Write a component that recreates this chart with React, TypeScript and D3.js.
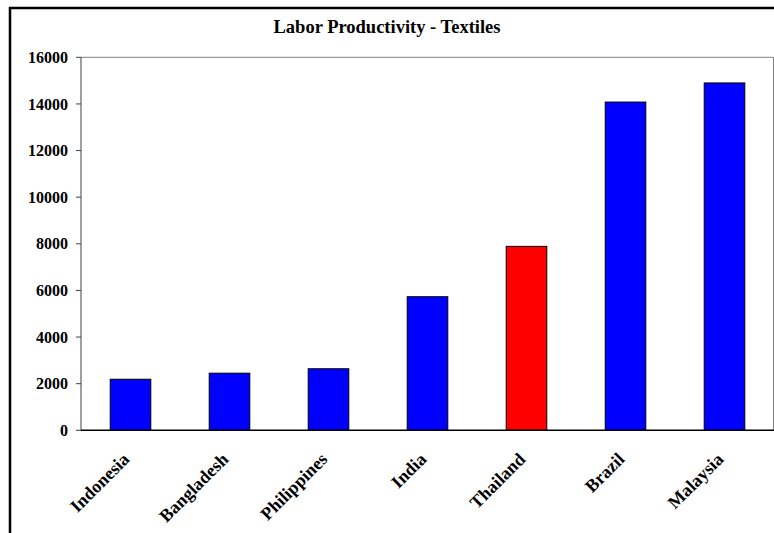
import React from "react";
import * as d3 from "d3";

const countries: string[] = ["Indonesia", "Bangladesh", "Philippines", "India", "Thailand", "Brazil", "Malaysia"];
const productivity: number[] = [2190, 2450, 2640, 5730, 7890, 14080, 14900];
const yTicks: number[] = [0, 2000, 4000, 6000, 8000, 10000, 12000, 14000, 16000];
const highlighted = "Thailand";
const chartTitle = "Labor Productivity - Textiles";

const W = 774;
const H = 533;
const plot = { left: 81, right: 774, top: 57.3, bottom: 430.3 };
const serif = "'Liberation Serif', 'Times New Roman', Times, serif";

export default function App() {
  const x = d3
    .scaleBand<string>()
    .domain(countries)
    .range([plot.left, plot.right])
    .paddingInner(0.59)
    .paddingOuter(0.295);
  const y = d3.scaleLinear().domain([0, 16000]).range([plot.bottom, plot.top]);

  return (
    <svg
      width={W}
      height={H}
      style={{ position: "absolute", left: 0, top: 0, background: "#fff" }}
      fontFamily={serif}
    >
      {/* chart frame */}
      <rect x={10} y={8} width={800} height={560} fill="#fff" stroke="#000" strokeWidth={2.5} />

      <text x={387} y={33} textAnchor="middle" fontSize={18.5} fontWeight="bold" fill="#000">
        {chartTitle}
      </text>

      {/* plot area border */}
      <line x1={plot.left} x2={plot.right - 0.5} y1={plot.top} y2={plot.top} stroke="#808080" strokeWidth={1} />
      <line x1={plot.right - 0.5} x2={plot.right - 0.5} y1={plot.top} y2={plot.bottom} stroke="#808080" strokeWidth={1} />

      {/* bars */}
      {countries.map((c, i) => (
        <rect
          key={c}
          x={x(c)}
          y={y(productivity[i])}
          width={x.bandwidth()}
          height={y(0) - y(productivity[i])}
          fill={c === highlighted ? "#FF0000" : "#0000FF"}
          stroke="#000"
          strokeWidth={1}
        />
      ))}

      {/* y axis */}
      <line x1={plot.left} x2={plot.left} y1={plot.top} y2={plot.bottom} stroke="#404040" strokeWidth={1} />
      {yTicks.map((t) => (
        <g key={t}>
          <line x1={plot.left - 5} x2={plot.left} y1={y(t)} y2={y(t)} stroke="#404040" strokeWidth={1} />
          <text
            x={68}
            y={y(t)}
            dy="0.35em"
            textAnchor="end"
            fontSize={16}
            fontWeight="bold"
            fill="#000"
          >
            {t}
          </text>
        </g>
      ))}

      {/* x axis */}
      <line x1={plot.left} x2={plot.right} y1={plot.bottom} y2={plot.bottom} stroke="#000" strokeWidth={1.5} />
      {countries.map((c) => {
        const cx = (x(c) as number) + x.bandwidth() / 2;
        const cy = plot.bottom + 30;
        return (
          <text
            key={c}
            x={cx}
            y={cy}
            textAnchor="end"
            fontSize={18}
            fontWeight="bold"
            fill="#000"
            transform={`rotate(-45, ${cx}, ${cy})`}
          >
            {c}
          </text>
        );
      })}
    </svg>
  );
}
